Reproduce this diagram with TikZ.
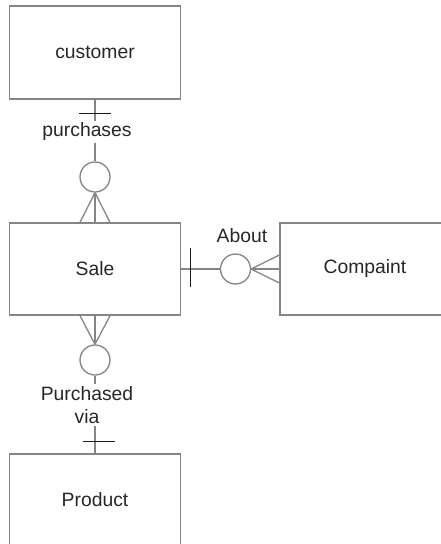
\documentclass[tikz,border=0pt]{standalone}
\usepackage{fontspec}
\setmainfont{Liberation Sans}
\begin{document}
\begin{tikzpicture}[x=1bp,y=-1bp,
  every node/.style={text=black!85},
  entity/.style={draw=black!48, line width=1.3bp, rectangle, minimum width=171bp, minimum height=93bp, inner sep=0pt, font=\fontsize{19.4}{23}\selectfont},
  optional/.style={draw=black!48, line width=1.3bp, circle, minimum size=30bp, inner sep=0pt},
  rel/.style={inner xsep=0pt, inner ysep=1.5bp, text height=14bp, text depth=4bp, font=\fontsize{19.4}{23}\selectfont},
  link/.style={draw=black!48, line width=1.3bp},
  bar/.style={draw=black!90, line width=1bp}
]
\useasboundingbox (0,0) rectangle (441,544);
\clip (0,0) rectangle (441,544);

% entities
\node[entity] (cust) at (95,52.5) {customer};
\node[entity, minimum height=92bp] (sale) at (95,269) {Sale};
\node[entity, minimum height=92bp, minimum width=170bp] (comp) at (365,269) {Compaint};
\node[entity, minimum height=92bp] (prod) at (95,500) {Product};

% optionality circles
\node[optional] (o1) at (95,177) {};
\node[optional] (o2) at (95,360) {};
\node[optional] (o3) at (235.5,269) {};

% relationship names
\node[rel] (purch) at (87,132) {purchases};
\node[rel] (about) at (242,237) {About};
\node[inner xsep=0pt, inner ysep=2bp, align=center, anchor=north, font=\fontsize{19.4}{23.5}\selectfont] (pvia) at (87,384) {Purchased\\via};

% customer -- sale
\draw[link] (cust.south) -- (cust.south |- purch.north);
\draw[link] (o1.north |- purch.south) -- (o1.north);
\draw[bar] (79,114) -- (111,114);
\draw[link] (o1.south) -- (sale.north -| 80,0);
\draw[link] (o1.south) -- (sale.north);
\draw[link] (o1.south) -- (sale.north -| 110,0);

% sale -- product
\draw[link] (sale.south -| 80,0) -- (o2.north);
\draw[link] (sale.south) -- (o2.north);
\draw[link] (sale.south -| 110,0) -- (o2.north);
\draw[link] (o2.south) -- (o2.south |- pvia.north);
\draw[link] (prod.north |- pvia.south) -- (prod.north);
\draw[bar] (83,441) -- (115,441);

% sale -- complaint
\draw[link] (sale.east) -- (o3.west);
\draw[bar] (190,248) -- (190,287);
\draw[link] (o3.east) -- (comp.west |- 0,255);
\draw[link] (o3.east) -- (comp.west);
\draw[link] (o3.east) -- (comp.west |- 0,283);
\end{tikzpicture}
\end{document}
